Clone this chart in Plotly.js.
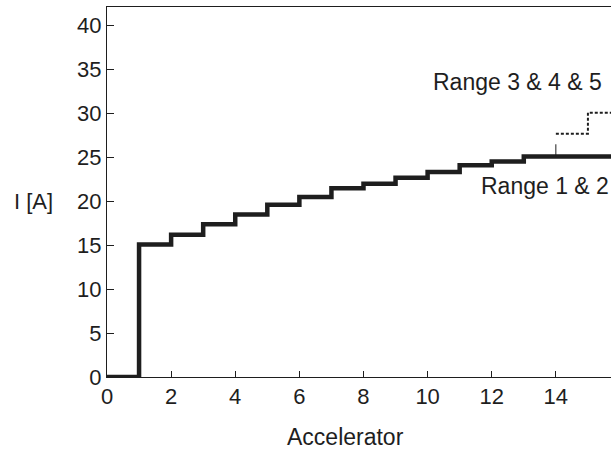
<!DOCTYPE html>
<html>
<head>
<meta charset="utf-8">
<script src="https://cdn.plot.ly/plotly-3.0.1.min.js"></script>
<style>html,body{margin:0;padding:0;background:#fff;}#chart{width:611px;height:453px;}</style>
</head>
<body>
<div id="chart"></div>
<script>
// Range 1 & 2 step curve (accelerator step -> current level)
var range12X = [0, 1, 2, 3, 4, 5, 6, 7, 8, 9, 10, 11, 12, 13, 15.72];
var range12Y = [0, 15.1, 16.2, 17.4, 18.5, 19.6, 20.5, 21.5, 22.0, 22.7, 23.35, 24.1, 24.55, 25.1, 25.1];
// Range 3 & 4 & 5 (dotted)
var range345X = [14, 15, 15.72];
var range345Y = [27.7, 30.1, 30.1];
// small leader line
var leaderX = [14, 14];
var leaderY = [25.1, 26.5];
var xTicks = [0, 2, 4, 6, 8, 10, 12, 14];
var yTicks = [0, 5, 10, 15, 20, 25, 30, 35, 40];

var FONT = 'Liberation Sans, Arial, Helvetica, sans-serif';
var INK = '#1e1e1e';

var traces = [
  {x: range12X, y: range12Y, mode: 'lines', line: {shape: 'hv', color: INK, width: 4.5}, hoverinfo: 'skip', cliponaxis: false},
  {x: range345X, y: range345Y, mode: 'lines', line: {shape: 'hv', color: INK, width: 2, dash: '3px,2px'}, hoverinfo: 'skip'},
  {x: leaderX, y: leaderY, mode: 'lines', line: {color: INK, width: 1}, hoverinfo: 'skip'}
];

var layout = {
  width: 611, height: 453,
  margin: {l: 107, r: 0, t: 7, b: 76},
  paper_bgcolor: '#fff', plot_bgcolor: '#fff',
  showlegend: false,
  font: {family: FONT, size: 22, color: INK},
  xaxis: {
    range: [0, 15.72], tickvals: xTicks, ticktext: xTicks.map(String),
    ticks: 'inside', ticklen: 6, tickwidth: 1, tickcolor: INK,
    showline: true, linecolor: INK, linewidth: 1, mirror: true,
    showgrid: false, zeroline: false, fixedrange: true,
    tickfont: {family: FONT, size: 22, color: INK}
  },
  yaxis: {
    range: [0, 42.13], tickvals: yTicks, ticktext: yTicks.map(String),
    ticks: 'inside', ticklen: 7, tickwidth: 1, tickcolor: INK,
    showline: true, linecolor: INK, linewidth: 1,
    showgrid: false, zeroline: false, fixedrange: true,
    tickfont: {family: FONT, size: 22, color: INK}
  },
  annotations: [
    {text: 'I [A]', xref: 'paper', yref: 'paper', x: -0.145, y: 0.473, xanchor: 'center', yanchor: 'middle', showarrow: false, font: {family: FONT, size: 22, color: INK}},
    {text: 'Accelerator', xref: 'paper', yref: 'paper', x: 0.474, y: -0.162, xanchor: 'center', yanchor: 'middle', showarrow: false, font: {family: FONT, size: 23, color: INK}},
    {text: 'Range 3 & 4 & 5', xref: 'x', yref: 'y', x: 15.5, y: 33.6, xanchor: 'right', yanchor: 'middle', showarrow: false, font: {family: FONT, size: 23, color: INK}},
    {text: 'Range 1 & 2', xref: 'x', yref: 'y', x: 15.72, y: 21.7, xanchor: 'right', yanchor: 'middle', showarrow: false, font: {family: FONT, size: 23, color: INK}}
  ]
};

Plotly.newPlot('chart', traces, layout, {staticPlot: true, displayModeBar: false});
</script>
</body>
</html>
